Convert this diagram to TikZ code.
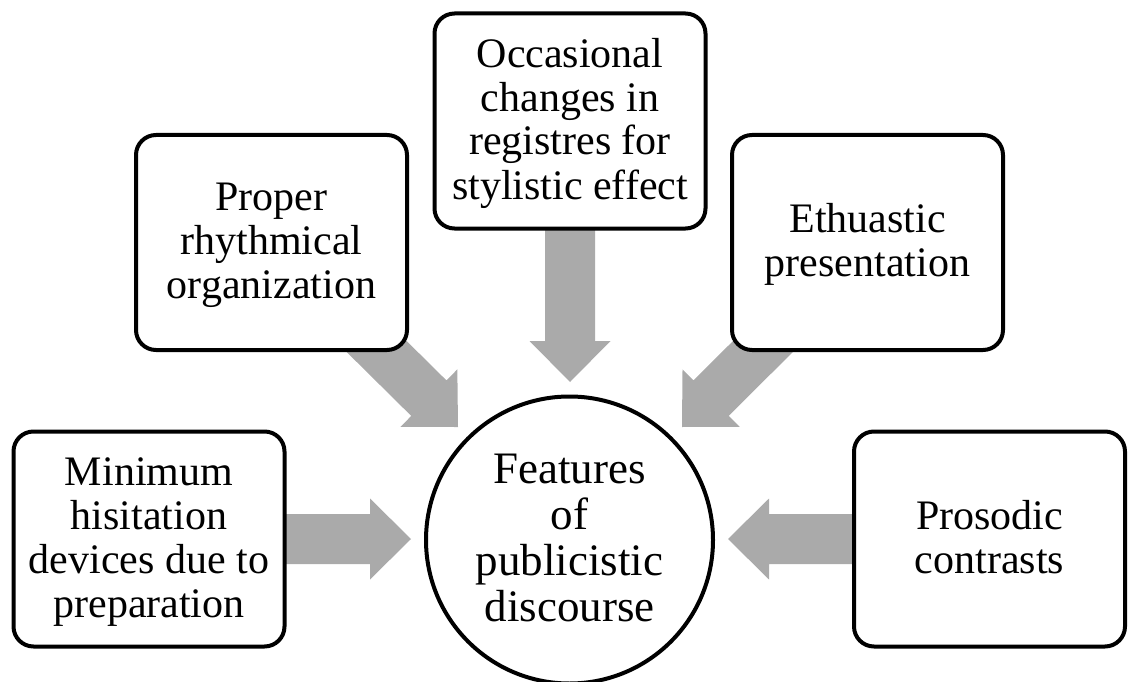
\documentclass[tikz,border=0pt]{standalone}
\usepackage{fontspec}
\setmainfont{Liberation Serif}
\usetikzlibrary{calc}
\pgfdeclarelayer{background}
\pgfsetlayers{background,main}
\definecolor{arrowgray}{RGB}{170,170,170}
% struts that fix the height of the first line and the depth of the last
\newcommand{\capstrut}{\rule{0pt}{34pt}}
\newcommand{\descstrut}{\rule[-10pt]{0pt}{10pt}}
% wide grey block arrow from #1 (tail) to #2 (tip)
\newcommand{\blockarrow}[2]{%
  \fill[arrowfill]
    ($(#1)!25pt!90:(#2)$)
    -- ($($(#2)!41pt!(#1)$)!25pt!90:(#2)$)
    -- ($($(#2)!41pt!(#1)$)!40.5pt!90:(#2)$)
    -- (#2)
    -- ($($(#2)!41pt!(#1)$)!40.5pt!-90:(#2)$)
    -- ($($(#2)!41pt!(#1)$)!25pt!-90:(#2)$)
    -- ($(#1)!25pt!-90:(#2)$)
    -- cycle;}
\begin{document}
\begin{tikzpicture}[x=1pt, y=-1pt,
  featbox/.style={draw, line width=4pt, rounded corners=20pt, fill=white,
    minimum width=271pt, minimum height=215pt, inner sep=0pt, align=center,
    font=\fontsize{42pt}{44pt}\selectfont},
  hub/.style={circle, draw, line width=4pt, fill=white, minimum size=287pt,
    inner sep=0pt, align=center, font=\fontsize{45pt}{46pt}\selectfont},
  arrowfill/.style={fill=arrowgray, draw=none}]
  \useasboundingbox (0,0) rectangle (1130,682);

  % centre
  \node[hub] (hub) at (569.5,540)
    {\capstrut Features\\of\\publicistic\\discourse\descstrut};

  % surrounding features
  \node[featbox] (b1) at (149,539)
    {\capstrut Minimum\\hisitation\\devices due to\\preparation\descstrut};
  \node[featbox] (b2) at (271.5,242.5)
    {\capstrut Proper\\rhythmical\\organization\descstrut};
  \node[featbox] (b3) at (570,121)
    {\capstrut Occasional\\changes in\\registres for\\stylistic effect\descstrut};
  \node[featbox] (b4) at (867.5,242.5)
    {\capstrut Ethuastic\\presentation\descstrut};
  \node[featbox] (b5) at (989.5,539)
    {\capstrut Prosodic\\contrasts\descstrut};

  % arrow tips around the centre
  \coordinate (tipW)  at (411,539);
  \coordinate (tipNW) at (458,427);
  \coordinate (tipN)  at (570,382);
  \coordinate (tipNE) at (682,427);
  \coordinate (tipE)  at (728,539);

  \begin{pgfonlayer}{background}
    \blockarrow{b1.center}{tipW}
    \blockarrow{b2.center}{tipNW}
    \blockarrow{b3.center}{tipN}
    \blockarrow{b4.center}{tipNE}
    \blockarrow{b5.center}{tipE}
  \end{pgfonlayer}
\end{tikzpicture}
\end{document}
